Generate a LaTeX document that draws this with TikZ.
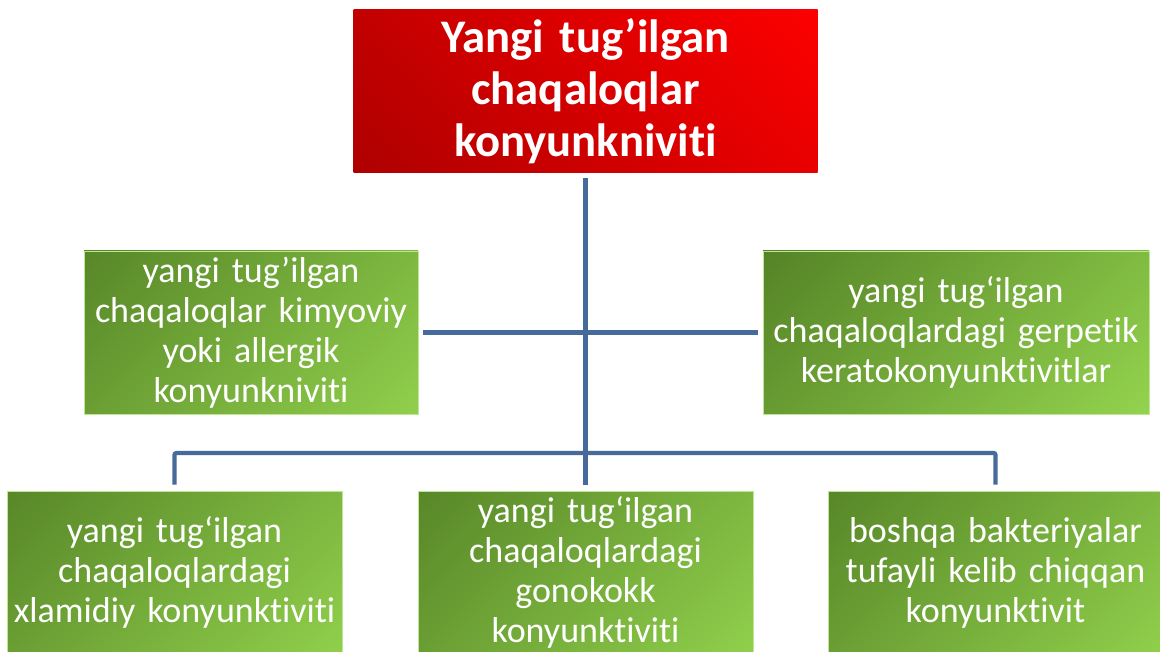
\documentclass[tikz,border=0pt]{standalone}
\usepackage{fontspec}
\setmainfont{Carlito}[Ligatures=NoCommon]
\usepackage{xcolor}
\usetikzlibrary{calc,positioning}
\definecolor{linkblue}{RGB}{70,106,154}
\definecolor{leafdark}{RGB}{84,130,38}
\definecolor{leafmid}{RGB}{116,172,58}
\definecolor{leaflight}{RGB}{148,212,78}
\definecolor{headdark}{RGB}{172,0,0}
\definecolor{headmid}{RGB}{236,0,0}
\definecolor{headlight}{RGB}{255,0,0}

\begin{document}
\begin{tikzpicture}[x=0.75pt,y=-0.75pt,
		head/.style={rectangle,inner sep=0pt,minimum width=348pt,minimum height=122.25pt,text width=340pt,align=center,
			path picture={\shade[top color=headlight,middle color=headmid,bottom color=headdark,shading angle=-45]
				([shift={(-175pt,-175pt)}]path picture bounding box.center) rectangle ([shift={(175pt,175pt)}]path picture bounding box.center);},
			text=white,font=\fontsize{35}{39}\selectfont\bfseries},
		leaf/.style={rectangle,inner sep=0pt,minimum height=122.25pt,align=center,draw=leaflight!60!white,line width=0.6pt,
			path picture={\shade[top color=leafdark,middle color=leafmid,bottom color=leaflight,shading angle=45]
				([shift={(-150pt,-150pt)}]path picture bounding box.center) rectangle ([shift={(150pt,150pt)}]path picture bounding box.center);},
			text=white,font=\fontsize{27}{30}\selectfont},
		link/.style={draw=linkblue,line width=3.2pt}]
		\useasboundingbox (0,0) rectangle (1160,652);

		\node[head] (root) at (585.5,91.5) {Yangi tug’ilgan\\chaqaloqlar\\konyunkniviti};
		\node[leaf,minimum width=250.5pt,text width=248pt] (chem) at (251,332.5) {yangi tug’ilgan\\chaqaloqlar kimyoviy\\yoki allergik\\konyunkniviti};
		\node[leaf,minimum width=289.5pt,text width=287pt] (herp) at (956,332.5) {yangi tug‘ilgan\\chaqaloqlardagi gerpetik\\keratokonyunktivitlar};
		\node[leaf,minimum width=251.25pt,text width=250pt] (chlam) at (174.5,572.5) {yangi tug‘ilgan\\chaqaloqlardagi\\xlamidiy konyunktiviti};
		\node[leaf,minimum width=251.25pt,text width=250pt] (gono) at (585.5,572.5) {yangi tug‘ilgan\\chaqaloqlardagi\\gonokokk\\konyunktiviti};
		\node[leaf,minimum width=251.25pt,text width=250pt] (bact) at (995.5,572.5) {boshqa bakteriyalar\\tufayli kelib chiqqan\\konyunktivit};

		\coordinate (bar) at (585,453);

		\path[link,shorten <=3.75pt,shorten >=4.5pt] (root.south) edge (gono.north);
		\path[link,shorten <=3.75pt,shorten >=3.75pt] (chem.east) edge (herp.west);
		\draw[link,rounded corners=1.5pt,shorten <=4.5pt,shorten >=4.5pt] (chlam.north) |- (bar) -| (bact.north);
		\end{tikzpicture}
\end{document}
